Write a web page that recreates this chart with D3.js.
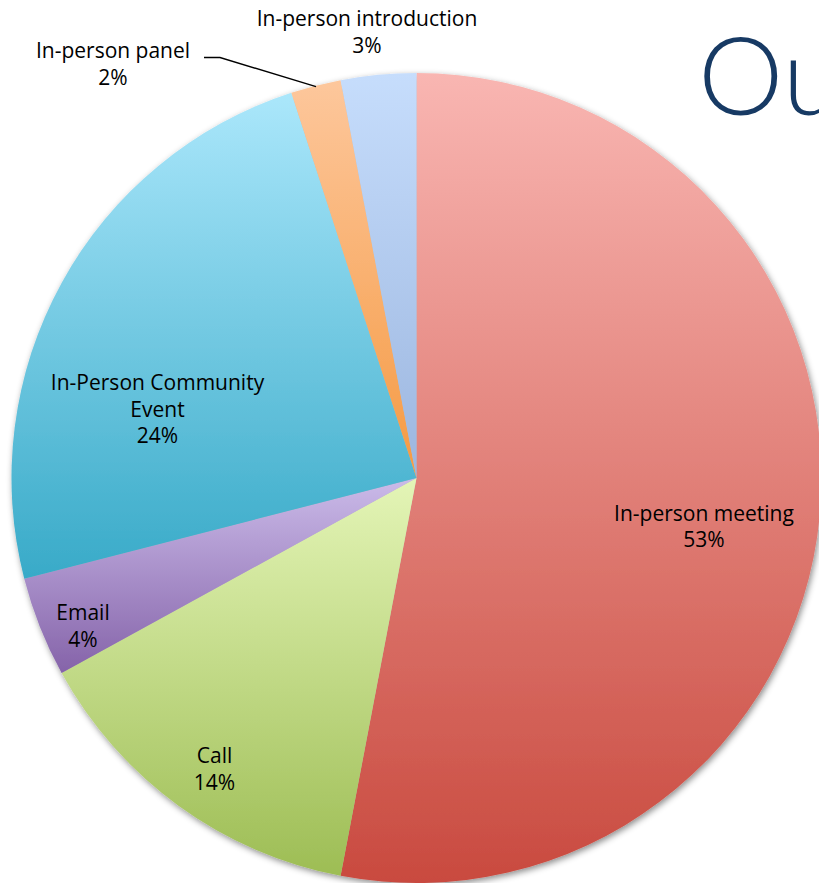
<!DOCTYPE html>
<html>
<head>
<meta charset="utf-8">
<script src="https://cdn.jsdelivr.net/npm/d3@7"></script>
<style>
  html, body { margin: 0; padding: 0; background: #ffffff; overflow: hidden; }
  svg { display: block; }
</style>
</head>
<body>
<svg id="chart" width="819" height="883"></svg>
<script>
// Contact channels and their share of outreach (percent)
const categories = [
  "In-person meeting",
  "Call",
  "Email",
  "In-Person Community Event",
  "In-person panel",
  "In-person introduction"
];
const shares = [53, 14, 4, 24, 2, 3];

// Label text lines per slice
const labelLines = [
  ["In-person meeting"],
  ["Call"],
  ["Email"],
  ["In-Person Community", "Event"],
  ["In-person panel"],
  ["In-person introduction"]
];

// Gradient stops per slice (top -> bottom)
const topColors    = ["#f9b6b2", "#e4f5b7", "#cbbbe9", "#abe7fb", "#fdc79c", "#c6ddfc"];
const bottomColors = ["#c94a3f", "#9dbd54", "#8563a9", "#38aac8", "#f59a43", "#9cb6df"];

const W = 819, H = 883;
const cx = 416.5, cy = 478, R = 405;

// Label anchor layout (offset of the first line's baseline from the pie centre)
const labelLayout = [
  { dx: 287.5, dy: 42.5 },
  { dx: -202,  dy: 285 },
  { dx: -333.5, dy: 142 },
  { dx: -259,  dy: -88 },
  { dx: -303.5, dy: -420 },
  { dx: -49.5, dy: -452 }
];
const lineGap = 26.5;

const svg = d3.select("#chart");
const defs = svg.append("defs");

// soft drop shadow beneath the pie
const shadow = defs.append("filter")
  .attr("id", "pieShadow")
  .attr("x", "-10%").attr("y", "-10%")
  .attr("width", "120%").attr("height", "120%");
shadow.append("feDropShadow")
  .attr("dx", 1.5).attr("dy", 2.5)
  .attr("stdDeviation", 3)
  .attr("flood-color", "#000")
  .attr("flood-opacity", 0.45);

categories.forEach((c, i) => {
  const g = defs.append("linearGradient")
    .attr("id", "grad" + i)
    .attr("x1", 0).attr("y1", 0).attr("x2", 0).attr("y2", 1);
  g.append("stop").attr("offset", "0%").attr("stop-color", topColors[i]);
  g.append("stop").attr("offset", "100%").attr("stop-color", bottomColors[i]);
});

// Slide title fragment in the background
svg.append("text")
  .attr("x", 698)
  .attr("y", 115)
  .attr("font-family", "Lato, 'Open Sans', sans-serif")
  .attr("font-weight", 300)
  .attr("font-size", 108)
  .attr("fill", "#173a64")
  .text("Ou");

const pie = d3.pie().sort(null).value(d => d.value);
const arcs = pie(categories.map((c, i) => ({ name: c, value: shares[i], idx: i })));
const arc = d3.arc().innerRadius(0).outerRadius(R);

const g = svg.append("g").attr("transform", `translate(${cx},${cy})`);

g.append("g")
  .attr("filter", "url(#pieShadow)")
  .selectAll("path")
  .data(arcs)
  .join("path")
  .attr("d", arc)
  .attr("fill", d => `url(#grad${d.data.idx})`);

// Leader line for the thin "panel" slice
const panelArc = arcs[4];
const panelMid = (panelArc.startAngle + panelArc.endAngle) / 2;
const edge = [Math.sin(panelMid) * (R - 1), -Math.cos(panelMid) * (R - 1)];
const lab = labelLayout[4];
g.append("polyline")
  .attr("points", [
    [lab.dx + 91, lab.dy - 0.5],
    [lab.dx + 107, lab.dy - 0.5],
    edge
  ].map(p => p.join(",")).join(" "))
  .attr("fill", "none")
  .attr("stroke", "#000")
  .attr("stroke-width", 1.4);

// Data labels: category name and percentage
const labels = g.append("g")
  .attr("font-family", "'Open Sans', Lato, sans-serif")
  .attr("font-size", 21)
  .attr("fill", "#000")
  .attr("text-anchor", "middle");

arcs.forEach((a, i) => {
  const pos = labelLayout[i];
  const t = labels.append("text")
    .attr("x", pos.dx)
    .attr("y", pos.dy);
  const lines = labelLines[i].concat([a.data.value + "%"]);
  lines.forEach((ln, j) => {
    t.append("tspan")
      .attr("x", pos.dx)
      .attr("dy", j === 0 ? 0 : lineGap)
      .text(ln);
  });
});
</script>
</body>
</html>
